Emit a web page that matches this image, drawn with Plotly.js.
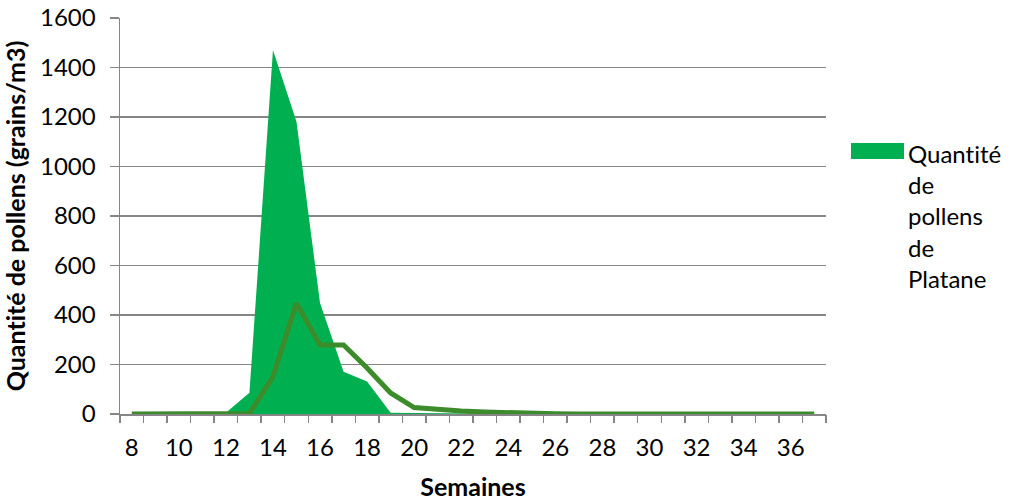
<!DOCTYPE html>
<html>
<head>
<meta charset="utf-8">
<script src="https://cdn.plot.ly/plotly-3.0.1.min.js"></script>
<style>html,body{margin:0;padding:0;background:#fff;}#chart{width:1010px;height:502px;}
text{font-variant-ligatures:none;font-feature-settings:"liga" 0;}</style>
</head>
<body>
<div id="chart"></div>
<script>
const weeks = [8,9,10,11,12,13,14,15,16,17,18,19,20,21,22,23,24,25,26,27,28,29,30,31,32,33,34,35,36,37];
const pollenPlatane = [0,0,0,0,5,86,1471,1181,448,171,131,5,4,3,2,1,0,0,0,0,0,0,0,0,0,0,0,0,0,0];
const pollenLine = [0,0,0,0,0,2,151,447,279,279,186,85,26,18,12,8,4,2,1,0,0,0,0,0,0,0,0,0,0,0];
const xTickVals = [8,10,12,14,16,18,20,22,24,26,28,30,32,34,36];
const legendName = "Quantité<br>de<br>pollens<br>de<br>Platane";
const yTitle = "Quantité de pollens (grains/m3)";
const xTitle = "Semaines";

const boundaries = [];
for (let i = 0; i <= weeks.length; i++) boundaries.push(weeks[0] - 0.5 + i);

const W = 1010, H = 502, ML = 120, MR = 184, MT = 18, MB = 88;
const PW = W - ML - MR, PH = H - MT - MB;
const px = v => (v - ML) / PW;
const py = v => (H - MB - v) / PH;

const font = "Lato, 'Open Sans', sans-serif";
const FS = 24;
const traces = [
  {x: weeks, y: pollenPlatane, type: 'scatter', mode: 'lines', fill: 'tozeroy',
   fillcolor: '#00B050', line: {width: 0, color: '#00B050'}, name: 'Quantité de pollens de Platane', showlegend: false},
  {x: weeks, y: pollenLine, type: 'scatter', mode: 'lines',
   line: {width: 5, color: '#3C8C2C'}, showlegend: false, name: 'line'},
  {x: [weeks[0]], y: [0], xaxis: 'x2', yaxis: 'y', mode: 'markers', marker: {opacity: 0}, showlegend: false, hoverinfo: 'skip'}
];
const layout = {
  width: W, height: H,
  margin: {l: ML, r: MR, t: MT, b: MB},
  paper_bgcolor: '#fff', plot_bgcolor: '#fff',
  font: {family: font, size: FS, color: '#000'},
  showlegend: false,
  xaxis: {range: [7.5, 37.5], tickmode: 'array', tickvals: xTickVals, ticktext: xTickVals.map(String),
          ticks: '', showgrid: false, zeroline: false, showline: true, linecolor: '#868686', linewidth: 1.5,
          ticklabelstandoff: 12, tickfont: {size: FS},
          title: {text: xTitle, font: {size: 25, family: font, weight: 'bold'}, standoff: 18}, fixedrange: true},
  xaxis2: {overlaying: 'x', matches: 'x', range: [7.5, 37.5], side: 'bottom', anchor: 'y', tickmode: 'array', tickvals: boundaries,
           showticklabels: false, ticks: 'outside', ticklen: 8, tickwidth: 1.5, tickcolor: '#868686',
           showgrid: false, zeroline: false, showline: false},
  yaxis: {range: [0, 1600], dtick: 200, tick0: 0, ticks: 'outside', ticklen: 9, tickwidth: 1.5, tickcolor: '#868686',
          showgrid: true, gridcolor: '#868686', gridwidth: 1.5, zeroline: false, showline: true, linecolor: '#868686', linewidth: 1.5,
          ticklabelstandoff: 9, tickfont: {size: FS},
          title: {text: yTitle, font: {size: 25, family: font, weight: 'bold'}, standoff: 8}},
  shapes: [
    {type: 'rect', xref: 'paper', yref: 'paper', x0: px(851), x1: px(904), y0: py(159), y1: py(143),
     fillcolor: '#00B050', line: {width: 0}}
  ],
  annotations: [
    {xref: 'paper', yref: 'paper', x: px(906), y: py(137), xanchor: 'left', yanchor: 'top', align: 'left',
     text: legendName, showarrow: false, font: {size: 24, family: font, color: '#000'}}
  ]
};
Plotly.newPlot('chart', traces, layout, {displayModeBar: false, staticPlot: true});
</script>
</body>
</html>
